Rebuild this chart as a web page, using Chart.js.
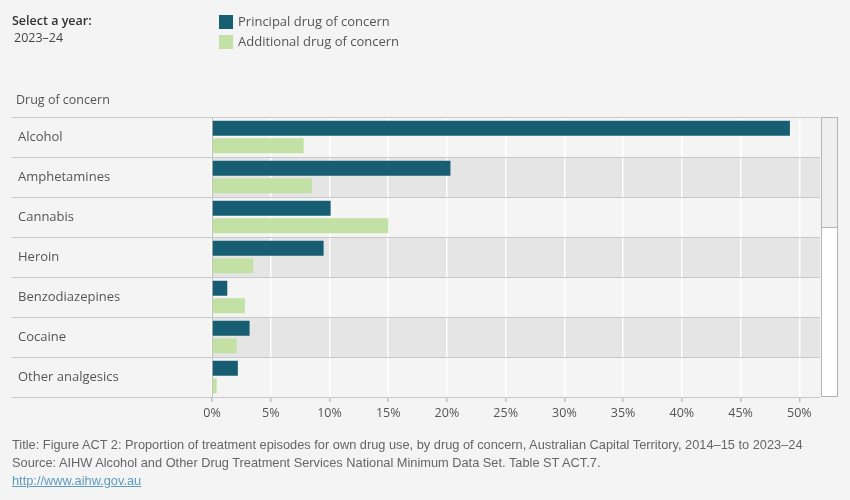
<!DOCTYPE html>
<html>
<head>
<meta charset="utf-8">
<script src="https://cdn.jsdelivr.net/npm/chart.js@4/dist/chart.umd.min.js"></script>
<style>
  html, body { margin:0; padding:0; background:#f4f4f4; }
  body { width:850px; height:500px; position:relative; overflow:hidden; font-family:"Open Sans","Noto Sans",sans-serif; color:#555; }
  #chart { position:absolute; left:0; top:0; }
  .abs { position:absolute; white-space:nowrap; }
  .sw { position:absolute; width:14px; height:14px; }
  .foot { font-family:"Liberation Sans Narrow","Liberation Sans",sans-serif; font-size:12.8px; color:#666; left:12px; }
  #scroll { position:absolute; left:821px; top:117px; width:15px; height:278px; border:1px solid #b4b4b4; background:#fff; }
  #thumb { position:absolute; left:0; top:0; width:15px; height:109px; background:#efefef; border-bottom:1px solid #b4b4b4; }
</style>
</head>
<body>
<canvas id="chart" width="850" height="500"></canvas>

<div class="abs" style="left:12px;top:12px;font-size:12.5px;color:#333;font-weight:600;">Select a year:</div>
<div class="abs" style="left:14px;top:29px;font-size:12.5px;color:#444;">2023–24</div>

<div class="sw" style="left:219px;top:15px;background:#175e72;"></div>
<div class="abs" style="left:238px;top:12px;font-size:13px;color:#555;">Principal drug of concern</div>
<div class="sw" style="left:219px;top:35px;background:#c3e1a5;"></div>
<div class="abs" style="left:238px;top:32px;font-size:13px;color:#555;">Additional drug of concern</div>

<div class="abs" style="left:16px;top:91px;font-size:12.5px;color:#555;">Drug of concern</div>

<div id="scroll"><div id="thumb"></div></div>

<div class="abs foot" style="top:437px;">Title: Figure ACT 2: Proportion of treatment episodes for own drug use, by drug of concern, Australian Capital Territory, 2014–15 to 2023–24</div>
<div class="abs foot" style="top:455px;">Source: AIHW Alcohol and Other Drug Treatment Services National Minimum Data Set. Table ST ACT.7.</div>
<div class="abs foot" style="top:473px;color:#5b9bc0;text-decoration:underline;">http://www.aihw.gov.au</div>

<script>
const drugs = ['Alcohol', 'Amphetamines', 'Cannabis', 'Heroin', 'Benzodiazepines', 'Cocaine', 'Other analgesics'];
const principal = [49.2, 20.3, 10.1, 9.5, 1.3, 3.2, 2.2];
const additional = [7.8, 8.5, 15.0, 3.5, 2.8, 2.1, 0.4];
const xTicks = [0, 5, 10, 15, 20, 25, 30, 35, 40, 45, 50];

// alternate row shading and row separator lines
const rowsPlugin = {
    id: 'rows',
    beforeDraw(chart) {
        const ctx = chart.ctx;
        const area = chart.chartArea;
        const y = chart.scales.y;
        const half = (y.getPixelForValue(1) - y.getPixelForValue(0)) / 2;
        ctx.save();
        ctx.fillStyle = '#e5e5e5';
        drugs.forEach((d, i) => {
            if (i % 2 === 1) {
                const c = y.getPixelForValue(i);
                ctx.fillRect(area.left, c - half, area.right - area.left, half * 2);
            }
        });
        ctx.restore();
    },
    beforeDatasetsDraw(chart) {
        const ctx = chart.ctx;
        const area = chart.chartArea;
        const y = chart.scales.y;
        const half = (y.getPixelForValue(1) - y.getPixelForValue(0)) / 2;
        ctx.save();
        ctx.strokeStyle = '#c8c8c8';
        ctx.lineWidth = 1;
        for (let i = 0; i <= drugs.length; i++) {
            const py = Math.round(y.getPixelForValue(i) - half) + 0.5;
            ctx.beginPath();
            ctx.moveTo(12, py);
            ctx.lineTo(area.right, py);
            ctx.stroke();
        }
        ctx.restore();
    }
};

new Chart(document.getElementById('chart'), {
    type: 'bar',
    data: {
        labels: drugs,
        datasets: [
            { label: 'Principal drug of concern', data: principal, backgroundColor: '#175e72', categoryPercentage: 0.875, barPercentage: 0.857 },
            { label: 'Additional drug of concern', data: additional, backgroundColor: '#c3e1a5', categoryPercentage: 0.875, barPercentage: 0.857 }
        ]
    },
    options: {
        indexAxis: 'y',
        responsive: false,
        animation: false,
        layout: { padding: { left: 18, right: 30, top: 117, bottom: 73 } },
        plugins: { legend: { display: false }, tooltip: { enabled: false } },
        scales: {
            x: {
                min: 0,
                max: 51.76,
                afterBuildTicks: (scale) => { scale.ticks = xTicks.map(v => ({ value: v })); },
                afterFit: (scale) => { scale.height = 30; },
                grid: { color: '#ffffff', lineWidth: 1.5, tickLength: 5, tickColor: '#c0c0c0' },
                border: { display: false },
                ticks: {
                    color: '#555',
                    font: { family: '"Open Sans","Noto Sans",sans-serif', size: 12.5 },
                    padding: 4,
                    callback: (v) => v + '%'
                }
            },
            y: {
                afterFit: (scale) => { scale.width = 194; },
                grid: { display: false },
                border: { display: true, color: '#bdbdbd' },
                ticks: {
                    color: '#555',
                    crossAlign: 'far',
                    padding: 2,
                    font: { family: '"Open Sans","Noto Sans",sans-serif', size: 13 }
                }
            }
        }
    },
    plugins: [rowsPlugin]
});
</script>
</body>
</html>
